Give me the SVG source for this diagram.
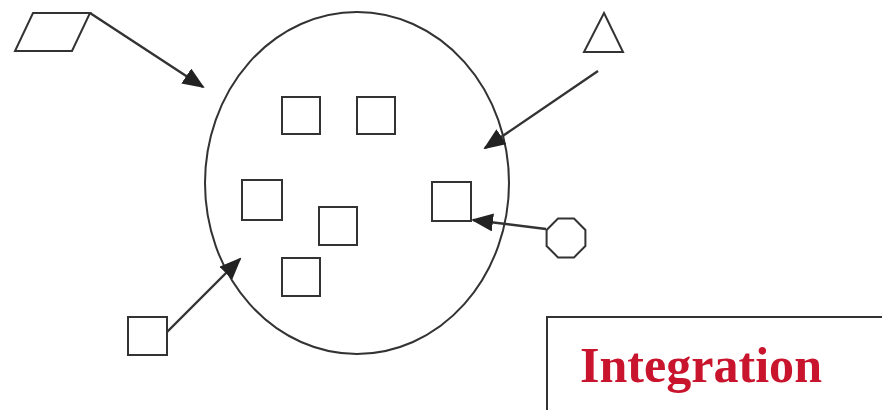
<svg xmlns="http://www.w3.org/2000/svg" width="882" height="410" viewBox="0 0 882 410">
<style>
.s{fill:none;stroke:#333;stroke-width:2}
.c{fill:none;stroke:#333;stroke-width:2.4}
.t{font-family:"Liberation Serif","Times New Roman",serif;font-weight:bold;font-size:50px;fill:#c8142d}
</style>
<defs>
<marker id="ah" markerWidth="22" markerHeight="18" refX="20" refY="9" orient="auto" markerUnits="userSpaceOnUse">
<path d="M0,0 L22,9 L0,18 Z" fill="#222"/>
</marker>
</defs>
<rect width="882" height="410" fill="#fff"/>
<g id="system"><ellipse class="s" cx="357" cy="183" rx="152" ry="171"/></g>
<g id="sq1"><rect class="s" x="282" y="97" width="38" height="37"/></g>
<g id="sq2"><rect class="s" x="357" y="97" width="38" height="37"/></g>
<g id="sq3"><rect class="s" x="242" y="180" width="40" height="40"/></g>
<g id="sq4"><rect class="s" x="319" y="207" width="38" height="38"/></g>
<g id="sq5"><rect class="s" x="282" y="258" width="38" height="38"/></g>
<g id="sq6"><rect class="s" x="432" y="182" width="39" height="39"/></g>
<g id="parallelogram"><polygon class="s" points="33,13 90,13 72,51 15,51"/></g>
<g id="triangle"><polygon class="s" points="604,13 623,52 584,52"/></g>
<g id="octagon"><polygon class="s" points="585.4,246 574,257.4 558,257.4 546.6,246 546.6,230 558,218.6 574,218.6 585.4,230"/></g>
<g id="sq-outer"><rect class="s" x="128" y="317" width="39" height="38"/></g>
<g id="connectors">
<line class="c" x1="90" y1="13" x2="203" y2="87" marker-end="url(#ah)"/>
<line class="c" x1="598" y1="71" x2="485" y2="148" marker-end="url(#ah)"/>
<line class="c" x1="546" y1="229" x2="473" y2="220" marker-end="url(#ah)"/>
<line class="c" x1="167" y1="332" x2="240" y2="259" marker-end="url(#ah)"/>
</g>
<g id="label">
<rect x="547" y="317" width="340" height="100" fill="#fff" stroke="#333" stroke-width="2"/>
<text class="t" x="580" y="382" textLength="242" lengthAdjust="spacingAndGlyphs">Integration</text>
</g>
</svg>
